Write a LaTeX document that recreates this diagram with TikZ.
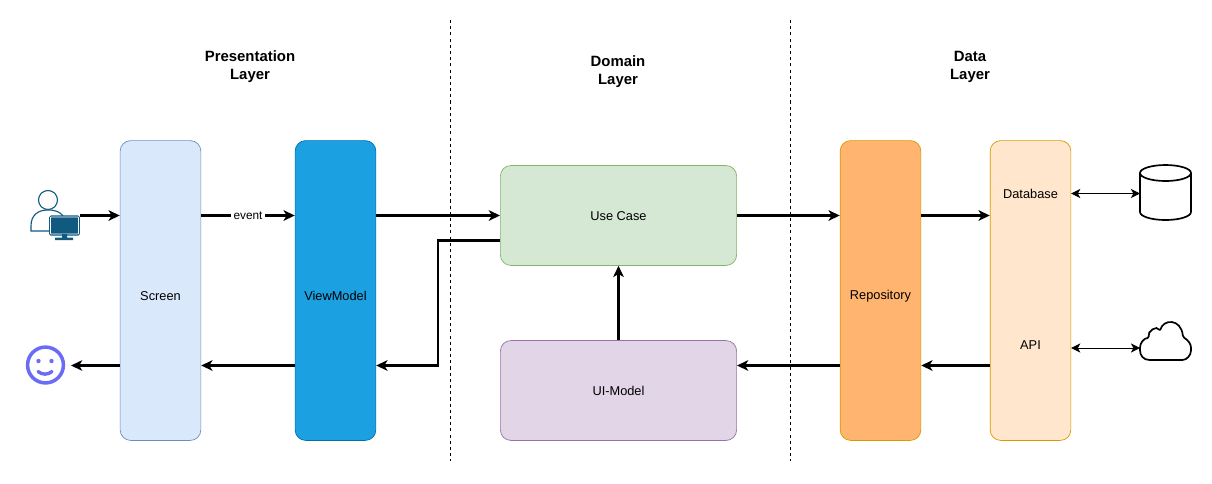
\documentclass[tikz,border=0pt]{standalone}
\usepackage{fontspec}
\setmainfont{Liberation Sans}
\usetikzlibrary{arrows.meta}
\definecolor{screenfill}{HTML}{DAE8FC}
\definecolor{screenline}{HTML}{6C8EBF}
\definecolor{vmfill}{HTML}{1BA1E2}
\definecolor{vmline}{HTML}{006EAF}
\definecolor{casefill}{HTML}{D5E8D4}
\definecolor{caseline}{HTML}{82B366}
\definecolor{uifill}{HTML}{E1D5E7}
\definecolor{uiline}{HTML}{9673A6}
\definecolor{repofill}{HTML}{FFB570}
\definecolor{dataline}{HTML}{D79B00}
\definecolor{datafill}{HTML}{FFE6CC}
\definecolor{usercolor}{HTML}{10597F}
\definecolor{smilecolor}{HTML}{6A6CF6}
\tikzset{
  small/.style={font=\fontsize{9.1}{11}\selectfont},
  box/.style={draw,rounded corners=7.5pt,inner sep=0pt,line width=0.5pt,small},
  tallbox/.style={box,minimum width=57.4pt,minimum height=213.2pt},
  widebox/.style={box,minimum width=168pt,minimum height=71pt},
  boxtext/.style={small,inner sep=0pt},
  title/.style={font=\bfseries\fontsize{10.6}{12.8}\selectfont,align=center},
  flow/.style={draw,line width=1.48pt,-{Stealth[length=8pt,width=7.5pt,inset=2.2pt]}},
  link/.style={draw,line width=0.7pt,{Stealth[length=6.5pt,width=6.5pt,inset=1.8pt]}-{Stealth[length=6.5pt,width=6.5pt,inset=1.8pt]}},
  layerline/.style={draw,line width=0.6pt,dash pattern=on 2.2pt off 2.2pt}
}
\begin{document}
\begin{tikzpicture}[x=0.025cm,y=-0.025cm]
  \useasboundingbox (0,0) rectangle (1212,483);
  % layers
  \node[title] (presTitle) at (250,66.5) {Presentation\\Layer};
  \node[title] (domTitle) at (618,71.5) {Domain\\Layer};
  \node[title] (dataTitle) at (970,66.5) {Data\\Layer};
  \coordinate (sepAtop) at (450,20);
  \coordinate (sepAbot) at (450,461);
  \coordinate (sepBtop) at (790,20);
  \coordinate (sepBbot) at (790,461);
  \draw[layerline] (sepAtop)--(sepAbot);
  \draw[layerline] (sepBtop)--(sepBbot);
  % boxes
  \node[tallbox,fill=screenfill,draw=screenline] (screen) at (160.5,290.5) {};
  \node[boxtext] (screenText) at (160.5,296) {Screen};
  \node[tallbox,fill=vmfill,draw=vmline] (vm) at (335.5,290.5) {};
  \node[boxtext] (vmText) at (335.5,296) {ViewModel};
  \node[widebox,fill=casefill,draw=caseline] (usecase) at (618.5,215.5) {};
  \node[boxtext] (caseText) at (618.5,216) {Use Case};
  \node[widebox,fill=uifill,draw=uiline] (uimodel) at (618.5,390.5) {};
  \node[boxtext] (uiText) at (618.5,391) {UI-Model};
  \node[tallbox,fill=repofill,draw=dataline] (repo) at (880.5,290.5) {};
  \node[boxtext] (repoText) at (880.5,296) {Repository};
  \node[tallbox,fill=datafill,draw=dataline] (datasrc) at (1030.5,290.5) {};
  \node[boxtext] (dbLabel) at (1030.5,193.5) {Database};
  \node[boxtext] (apiLabel) at (1030.5,345) {API};
  % user with monitor
  \draw[usercolor,line width=0.8pt,fill=white] (48,200) circle (9.5);
  \draw[usercolor,line width=0.8pt] (50,231) -- (31,231) -- (31,226) .. controls (31,215) and (38,210) .. (48,210) .. controls (56,210) and (60,212) .. (63,216);
  \node[draw=usercolor,fill=usercolor,line width=0.9pt,rounded corners=1pt,minimum width=21pt,minimum height=13.5pt,inner sep=0pt] (monitor) at (64.5,225.5) {};
  \draw[white,line width=0.5pt,rounded corners=0.5pt] (50.5,217) rectangle (78.5,234);
  \fill[usercolor] (62,234) rectangle (67,238) (55,237.5) rectangle (73,240);
  \coordinate (userOut) at (80,215.5);
  % smiley
  \node[circle,draw=smilecolor,line width=2.5pt,minimum size=25.5pt,inner sep=0pt] (smile) at (45.5,365) {};
  \fill[smilecolor] (38.5,361) circle (2.2) (51.5,361) circle (2.2);
  \draw[smilecolor,line width=2.4pt,line cap=round] (38,371.5) .. controls (42,375) and (48,375) .. (52,371.5);
  \coordinate (smileIn) at (71,365.5);
  % database and cloud
  \draw[line width=1.2pt,fill=white] (1140,173) arc[start angle=180,end angle=360,x radius=25.5,y radius=8] -- (1191,212) arc[start angle=0,end angle=-180,x radius=25.5,y radius=-8] -- cycle;
  \draw[line width=1.2pt] (1140,173) arc[start angle=180,end angle=0,x radius=25.5,y radius=8];
  \coordinate (db) at (1140,193.5);
  \draw[line width=1.2pt,rounded corners=1pt] (1151,360) .. controls (1143,360) and (1140,355) .. (1140,349) .. controls (1140,343) and (1144,338) .. (1149,338) .. controls (1147,331) and (1157,325) .. (1160,331) .. controls (1163,319) and (1181,318) .. (1183,337) .. controls (1188,340) and (1191,344) .. (1191,349) .. controls (1191,355) and (1187,360) .. (1181,360) -- cycle;
  \coordinate (cloudIn) at (1140,348);
  % connectors
  \path[flow] (userOut)--(screen.west |- userOut);
  \path[flow] (screen.west |- smileIn)--(smileIn);
  \coordinate (eventOut) at (screen.east |- usecase.west);
  \path[flow] (eventOut)--(vm.west |- usecase.west) node[midway,fill=white,font=\fontsize{8.4}{10}\selectfont,inner sep=1.5pt,text=black] (eventLabel) {event};
  \path[flow] (vm.east |- usecase.west)--(usecase.west);
  \coordinate (caseOut) at (500,240.5);
  \coordinate (elbowA) at (438,240.5);
  \coordinate (elbowB) at (438,365.5);
  \path[flow] (caseOut)--(elbowA)--(elbowB)--(vm.east |- elbowB);
  \path[flow] (vm.west |- elbowB)--(screen.east |- elbowB);
  \path[flow] (usecase.east)--(repo.west |- usecase.east);
  \path[flow] (repo.east |- usecase.east)--(datasrc.west |- usecase.east);
  \path[flow] (datasrc.west |- elbowB)--(repo.east |- elbowB);
  \path[flow] (repo.west |- elbowB)--(uimodel.east |- elbowB);
  \path[flow] (uimodel.north)--(usecase.south);
  \path[link] (datasrc.east |- dbLabel)--(db);
  \path[link] (datasrc.east |- cloudIn)--(cloudIn);
\end{tikzpicture}
\end{document}
